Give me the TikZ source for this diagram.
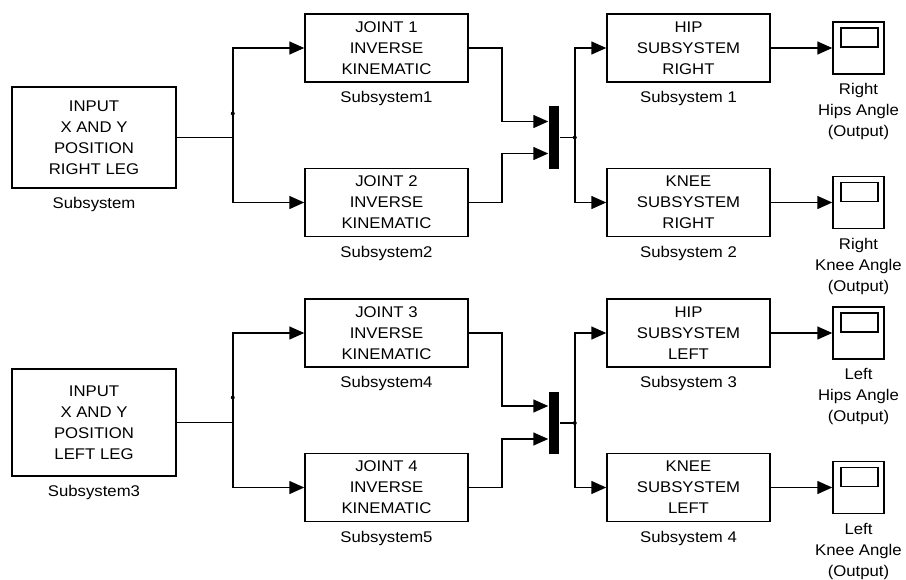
\documentclass[tikz,border=0pt]{standalone}
\usepackage{fontspec}
\setmainfont{Liberation Sans}[FakeStretch=1.08]
\usepackage{tikz}
\usetikzlibrary{positioning,arrows.meta}

\begin{document}
\begin{tikzpicture}[x=1pt, y=-1pt, line width=1.5pt, font=\fontsize{15.5}{21}\selectfont, block/.style={draw, align=center, minimum width=163pt, minimum height=68pt, inner sep=0pt}, tag/.style={align=center, inner sep=0pt}, mux/.style={fill=black, minimum width=10pt, minimum height=63pt, inner sep=0pt}, viewer/.style={draw, minimum width=51pt, minimum height=52pt, inner sep=0pt, path picture={\draw ([xshift=8pt,yshift=-6pt]path picture bounding box.north west) rectangle ([xshift=-6pt,yshift=-25pt]path picture bounding box.north east);}}, sig/.style={-{Triangle[length=15pt,width=13pt]}}]
\useasboundingbox (0,0) rectangle (906,579);
% right leg
\node[block, minimum width=164pt, minimum height=101pt] (inputR) at (94,137.5) {INPUT\\X AND Y\\POSITION\\RIGHT LEG};
\node[tag, below=8pt of inputR] (inputRtag) {Subsystem};
\node[block] (joint1) at (386.5,48) {JOINT 1\\INVERSE\\KINEMATIC};
\node[tag, below=8pt of joint1] (joint1tag) {Subsystem1};
\node[block] (joint2) at (386.5,202.5) {JOINT 2\\INVERSE\\KINEMATIC};
\node[tag, below=8pt of joint2] (joint2tag) {Subsystem2};
\node[mux] (muxR) at (554,137.5) {};
\node[block] (hipR) at (688.5,48) {HIP\\SUBSYSTEM\\RIGHT};
\node[tag, below=8pt of hipR] (hipRtag) {Subsystem 1};
\node[block] (kneeR) at (688.5,202.5) {KNEE\\SUBSYSTEM\\RIGHT};
\node[tag, below=8pt of kneeR] (kneeRtag) {Subsystem 2};
\node[viewer] (scopeHipR) at (858.5,48) {};
\node[tag, below=8pt of scopeHipR] (scopeHipRtag) {Right\\Hips Angle\\(Output)};
\node[viewer] (scopeKneeR) at (858.5,202.5) {};
\node[tag, below=8pt of scopeKneeR] (scopeKneeRtag) {Right\\Knee Angle\\(Output)};
\coordinate[right=56pt of inputR] (splitR);
\coordinate[right=15pt of muxR] (tapR);
\draw[sig] (inputR.east) -- (splitR) |- (joint1.west);
\draw[sig] (splitR) |- (joint2.west);
\fill ([yshift=24pt]splitR) circle (2pt);
\draw[sig] (joint1.east) -- ++(33pt,0pt) |- ([yshift=16pt]muxR.west);
\draw[sig] (joint2.east) -- ++(33pt,0pt) |- ([yshift=-16pt]muxR.west);
\draw[sig] (muxR.east) -- (tapR) |- (hipR.west);
\draw[sig] (tapR) |- (kneeR.west);
\fill (tapR) circle (2pt);
\draw[sig] (hipR) -- (scopeHipR);
\draw[sig] (kneeR) -- (scopeKneeR);
% left leg
\node[block, minimum width=164pt, minimum height=107pt] (inputL) at (94,422.5) {INPUT\\X AND Y\\POSITION\\LEFT LEG};
\node[tag, below=8pt of inputL] (inputLtag) {Subsystem3};
\node[block] (joint3) at (386.5,333) {JOINT 3\\INVERSE\\KINEMATIC};
\node[tag, below=8pt of joint3] (joint3tag) {Subsystem4};
\node[block] (joint4) at (386.5,487.5) {JOINT 4\\INVERSE\\KINEMATIC};
\node[tag, below=8pt of joint4] (joint4tag) {Subsystem5};
\node[mux, minimum height=62pt] (muxL) at (554,423) {};
\node[block] (hipL) at (688.5,333) {HIP\\SUBSYSTEM\\LEFT};
\node[tag, below=8pt of hipL] (hipLtag) {Subsystem 3};
\node[block] (kneeL) at (688.5,487.5) {KNEE\\SUBSYSTEM\\LEFT};
\node[tag, below=8pt of kneeL] (kneeLtag) {Subsystem 4};
\node[viewer] (scopeHipL) at (858.5,333) {};
\node[tag, below=8pt of scopeHipL] (scopeHipLtag) {Left\\Hips Angle\\(Output)};
\node[viewer] (scopeKneeL) at (858.5,487.5) {};
\node[tag, below=8pt of scopeKneeL] (scopeKneeLtag) {Left\\Knee Angle\\(Output)};
\coordinate[right=56pt of inputL] (splitL);
\coordinate[right=15pt of muxL] (tapL);
\draw[sig] (inputL.east) -- (splitL) |- (joint3.west);
\draw[sig] (splitL) |- (joint4.west);
\fill ([yshift=25pt]splitL) circle (2pt);
\draw[sig] (joint3.east) -- ++(33pt,0pt) |- ([yshift=17pt]muxL.west);
\draw[sig] (joint4.east) -- ++(33pt,0pt) |- ([yshift=-16pt]muxL.west);
\draw[sig] (muxL.east) -- (tapL) |- (hipL.west);
\draw[sig] (tapL) |- (kneeL.west);
\fill (tapL) circle (2pt);
\draw[sig] (hipL) -- (scopeHipL);
\draw[sig] (kneeL) -- (scopeKneeL);
\end{tikzpicture}
\end{document}
